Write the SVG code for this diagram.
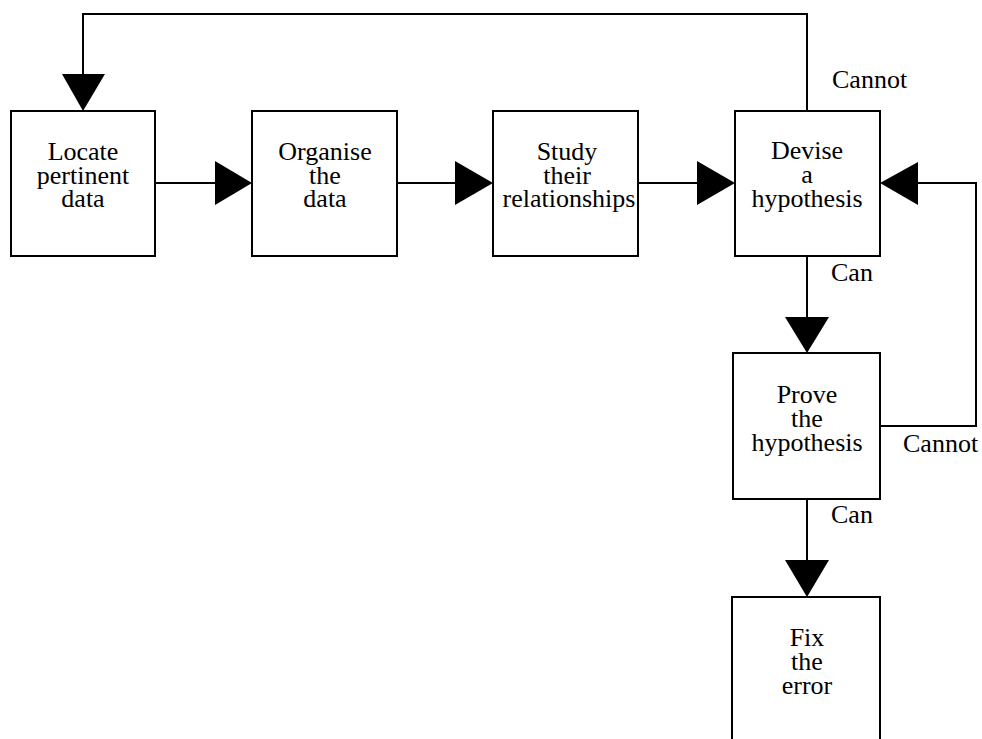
<svg xmlns="http://www.w3.org/2000/svg" width="982" height="739" viewBox="0 0 982 739">
  <style>
    .box { fill: #ffffff; stroke: #000000; stroke-width: 2; }
    .line { fill: none; stroke: #000000; stroke-width: 2; }
    .head { fill: #000000; stroke: none; }
    text { font-family: "Liberation Serif", "Times New Roman", serif; font-size: 26px; fill: #000000; }
    .c { text-anchor: middle; }
  </style>
  <rect width="982" height="739" fill="#ffffff"/>

  <!-- connectors -->
  <g id="connectors">
    <!-- Locate -> Organise -->
    <line class="line" x1="156" y1="183" x2="216" y2="183"/>
    <polygon class="head" points="215,161 252,183 215,205"/>
    <!-- Organise -> Study -->
    <line class="line" x1="397" y1="183" x2="456" y2="183"/>
    <polygon class="head" points="455,161 493,183 455,205"/>
    <!-- Study -> Devise -->
    <line class="line" x1="638" y1="183" x2="698" y2="183"/>
    <polygon class="head" points="697,161 735,183 697,205"/>
    <!-- Devise (cannot) -> Locate, loop over the top -->
    <polyline class="line" points="807,111 807,14 83,14 83,75"/>
    <polygon class="head" points="62,74 105,74 83,111"/>
    <!-- Devise (can) -> Prove -->
    <line class="line" x1="807" y1="256" x2="807" y2="318"/>
    <polygon class="head" points="785,317 829,317 807,353"/>
    <!-- Prove (cannot) -> Devise, loop on the right -->
    <polyline class="line" points="880,426 976,426 976,183 917,183"/>
    <polygon class="head" points="918,162 880,183 918,205"/>
    <!-- Prove (can) -> Fix -->
    <line class="line" x1="807" y1="499" x2="807" y2="561"/>
    <polygon class="head" points="785,560 829,560 807,597"/>
  </g>

  <!-- connector labels -->
  <g id="labels">
    <text x="832" y="88">Cannot</text>
    <text x="831" y="281">Can</text>
    <text x="903" y="452">Cannot</text>
    <text x="831" y="523">Can</text>
  </g>

  <g id="locate">
    <rect class="box" x="11" y="111" width="144" height="145"/>
    <text class="c" x="83" y="160">Locate</text>
    <text class="c" x="83" y="184">pertinent</text>
    <text class="c" x="83" y="207">data</text>
  </g>

  <g id="organise">
    <rect class="box" x="252" y="111" width="145" height="145"/>
    <text class="c" x="325" y="160">Organise</text>
    <text class="c" x="325" y="183.5">the</text>
    <text class="c" x="325" y="207">data</text>
  </g>

  <g id="study">
    <rect class="box" x="493" y="111" width="145" height="145"/>
    <text class="c" x="567" y="160">Study</text>
    <text class="c" x="567" y="183.5">their</text>
    <text class="c" x="569" y="207">relationships</text>
  </g>

  <g id="devise">
    <rect class="box" x="735" y="111" width="145" height="145"/>
    <text class="c" x="807" y="159">Devise</text>
    <text class="c" x="807" y="183">a</text>
    <text class="c" x="807" y="207">hypothesis</text>
  </g>

  <g id="prove">
    <rect class="box" x="733" y="353" width="147" height="146"/>
    <text class="c" x="807" y="403">Prove</text>
    <text class="c" x="807" y="427">the</text>
    <text class="c" x="807" y="451">hypothesis</text>
  </g>

  <g id="fix">
    <rect class="box" x="732" y="597" width="148" height="160"/>
    <text class="c" x="807" y="646">Fix</text>
    <text class="c" x="807" y="670">the</text>
    <text class="c" x="807" y="694">error</text>
  </g>
</svg>
